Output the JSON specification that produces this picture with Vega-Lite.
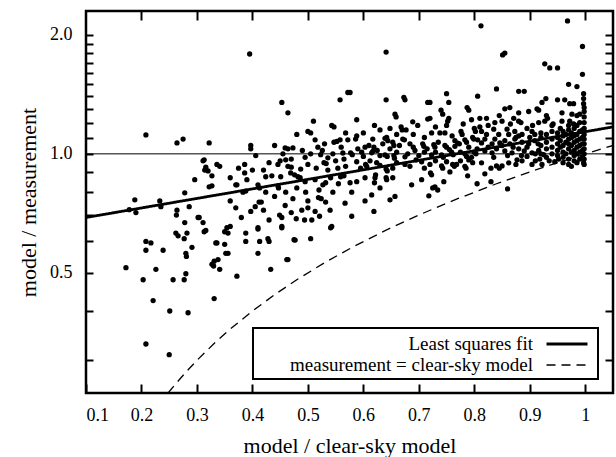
{
  "$schema": "https://vega.github.io/schema/vega-lite/v6.json",
  "width": 527,
  "height": 382,
  "autosize": {"type": "none"},
  "padding": {"left": 86, "top": 11, "right": 3, "bottom": 64},
  "background": "white",
  "config": {
    "view": {"stroke": "black", "strokeWidth": 2.5},
    "axis": {
      "domain": false, "grid": false,
      "labelFont": "Liberation Serif", "titleFont": "Liberation Serif",
      "labelColor": "black", "titleColor": "black", "tickColor": "black",
      "tickWidth": 2, "labelFontSize": 18, "titleFontSize": 22, "titleFontWeight": "normal"
    },
    "legend": {
      "orient": "none", "legendX": 167, "legendY": 317,
      "strokeColor": "black", "fillColor": "white", "padding": 4, "strokeWidth": 2,
      "labelFont": "Liberation Serif", "labelFontSize": 19, "labelColor": "black",
      "labelLimit": 0, "symbolType": "M-2,0L2,0", "symbolSize": 420,
      "symbolStrokeColor": "black", "symbolFillColor": "transparent", "rowPadding": -3,
      "labelAlign": "right", "labelOffset": -46, "symbolOffset": 298
    }
  },
  "datasets": {
    "pts": [
      {"x":0.208,"y":1.117},{"x":0.264,"y":1.066},{"x":0.275,"y":1.09},{"x":0.322,"y":1.066},{"x":0.311,"y":0.96},{"x":0.314,"y":0.91},{"x":0.316,"y":0.925},{"x":0.327,"y":0.88},{"x":0.336,"y":0.94},{"x":0.296,"y":0.86},{"x":0.322,"y":0.825},{"x":0.327,"y":0.83},{"x":0.278,"y":0.797},{"x":0.188,"y":0.765},{"x":0.178,"y":0.722},{"x":0.19,"y":0.71},{"x":0.233,"y":0.76},{"x":0.235,"y":0.735},{"x":0.286,"y":0.735},{"x":0.264,"y":0.72},{"x":0.263,"y":0.70},{"x":0.302,"y":0.69},{"x":0.278,"y":0.67},{"x":0.311,"y":0.67},{"x":0.316,"y":0.64},{"x":0.262,"y":0.63},{"x":0.266,"y":0.62},{"x":0.277,"y":0.61},{"x":0.282,"y":0.63},{"x":0.208,"y":0.60},{"x":0.217,"y":0.595},{"x":0.208,"y":0.57},{"x":0.239,"y":0.57},{"x":0.28,"y":0.56},{"x":0.281,"y":0.55},{"x":0.291,"y":0.58},{"x":0.334,"y":0.595},{"x":0.172,"y":0.515},{"x":0.226,"y":0.51},{"x":0.203,"y":0.48},{"x":0.257,"y":0.48},{"x":0.277,"y":0.48},{"x":0.28,"y":0.497},{"x":0.327,"y":0.525},{"x":0.331,"y":0.535},{"x":0.221,"y":0.425},{"x":0.251,"y":0.40},{"x":0.284,"y":0.396},{"x":0.331,"y":0.43},{"x":0.208,"y":0.33},{"x":0.25,"y":0.31},{"x":0.372,"y":0.49},{"x":0.433,"y":0.51},{"x":0.462,"y":0.54},{"x":0.41,"y":0.56},{"x":0.356,"y":0.56},{"x":0.388,"y":0.60},{"x":0.336,"y":0.595},{"x":0.428,"y":0.61},{"x":0.475,"y":0.606},{"x":0.36,"y":0.655},{"x":0.41,"y":0.65},{"x":0.453,"y":0.655},{"x":0.33,"y":0.52},{"x":0.341,"y":0.51},{"x":0.313,"y":0.635},{"x":0.313,"y":0.966},{"x":0.32,"y":0.905},{"x":0.304,"y":0.69},{"x":0.372,"y":0.835},
      {"x":0.395,"y":1.79},{"x":0.453,"y":1.35},{"x":0.464,"y":1.27},{"x":0.558,"y":1.37},{"x":0.572,"y":1.43},{"x":0.397,"y":1.05},{"x":0.397,"y":1.03},{"x":0.406,"y":0.99},{"x":0.341,"y":0.93},{"x":0.386,"y":0.94},{"x":0.386,"y":0.895},{"x":0.40,"y":0.91},{"x":0.43,"y":0.95},{"x":0.44,"y":1.05},{"x":0.446,"y":0.94},{"x":0.459,"y":1.035},{"x":0.464,"y":1.03},{"x":0.46,"y":0.966},{"x":0.464,"y":0.93},{"x":0.473,"y":1.035},{"x":0.47,"y":0.925},{"x":0.48,"y":1.12},{"x":0.487,"y":0.915},{"x":0.495,"y":0.98},{"x":0.476,"y":0.885},{"x":0.50,"y":1.14},{"x":0.505,"y":1.13},{"x":0.513,"y":1.085},{"x":0.51,"y":1.21},{"x":0.518,"y":1.04},{"x":0.523,"y":0.995},{"x":0.526,"y":1.02},{"x":0.529,"y":0.95},{"x":0.533,"y":0.945},{"x":0.543,"y":1.18},{"x":0.547,"y":1.17},{"x":0.547,"y":1.07},{"x":0.552,"y":1.075},{"x":0.558,"y":1.085},{"x":0.536,"y":0.977},{"x":0.536,"y":0.91},{"x":0.541,"y":0.87},{"x":0.532,"y":0.845},{"x":0.554,"y":0.92},{"x":0.559,"y":0.875},{"x":0.567,"y":0.75},{"x":0.568,"y":0.93},{"x":0.568,"y":1.13},{"x":0.572,"y":1.085},{"x":0.563,"y":1.005},{"x":0.37,"y":0.835},{"x":0.383,"y":0.80},{"x":0.388,"y":0.805},{"x":0.41,"y":0.835},{"x":0.413,"y":0.82},{"x":0.424,"y":0.875},{"x":0.424,"y":0.80},{"x":0.446,"y":0.83},{"x":0.447,"y":0.82},{"x":0.451,"y":0.875},{"x":0.469,"y":0.895},{"x":0.482,"y":0.875},{"x":0.486,"y":0.87},{"x":0.473,"y":0.77},{"x":0.459,"y":0.74},{"x":0.496,"y":0.80},{"x":0.495,"y":0.85},{"x":0.513,"y":0.86},{"x":0.519,"y":0.775},{"x":0.524,"y":0.77},{"x":0.527,"y":0.835},{"x":0.532,"y":0.755},{"x":0.412,"y":0.755},{"x":0.416,"y":0.755},{"x":0.405,"y":0.735},{"x":0.397,"y":0.715},{"x":0.449,"y":0.70},{"x":0.453,"y":0.69},{"x":0.489,"y":0.72},{"x":0.479,"y":0.685},{"x":0.494,"y":0.68},{"x":0.507,"y":0.68},{"x":0.513,"y":0.715},{"x":0.521,"y":0.695},{"x":0.453,"y":0.65},{"x":0.41,"y":0.645},{"x":0.541,"y":0.65},{"x":0.354,"y":0.65},{"x":0.35,"y":0.635},{"x":0.356,"y":0.63},{"x":0.388,"y":0.63},{"x":0.413,"y":0.60},{"x":0.43,"y":0.60},{"x":0.35,"y":0.59},{"x":0.352,"y":0.56},{"x":0.477,"y":0.605},{"x":0.505,"y":0.61},{"x":0.464,"y":0.54},{"x":0.338,"y":0.54},
      {"x":0.812,"y":2.11},{"x":0.641,"y":1.81},{"x":0.576,"y":1.43},{"x":0.641,"y":1.37},{"x":0.673,"y":1.39},{"x":0.675,"y":1.37},{"x":0.716,"y":1.35},{"x":0.72,"y":1.35},{"x":0.75,"y":1.42},{"x":0.754,"y":1.35},{"x":0.806,"y":1.40},{"x":0.588,"y":1.22},{"x":0.657,"y":1.26},{"x":0.659,"y":1.24},{"x":0.74,"y":1.29},{"x":0.743,"y":1.26},{"x":0.689,"y":1.205},{"x":0.698,"y":1.18},{"x":0.716,"y":1.225},{"x":0.72,"y":1.23},{"x":0.754,"y":1.23},{"x":0.752,"y":1.21},{"x":0.787,"y":1.31},{"x":0.79,"y":1.29},{"x":0.795,"y":1.22},{"x":0.81,"y":1.23},{"x":0.63,"y":1.15},{"x":0.648,"y":1.16},{"x":0.668,"y":1.17},{"x":0.67,"y":1.15},{"x":0.677,"y":1.15},{"x":0.723,"y":1.13},{"x":0.738,"y":1.13},{"x":0.747,"y":1.13},{"x":0.75,"y":1.18},{"x":0.776,"y":1.14},{"x":0.778,"y":1.12},{"x":0.80,"y":1.16},{"x":0.802,"y":1.14},{"x":0.588,"y":1.11},{"x":0.586,"y":1.09},{"x":0.603,"y":1.04},{"x":0.617,"y":1.09},{"x":0.619,"y":1.04},{"x":0.639,"y":1.095},{"x":0.642,"y":1.10},{"x":0.644,"y":1.08},{"x":0.653,"y":1.07},{"x":0.655,"y":1.05},{"x":0.671,"y":1.09},{"x":0.674,"y":1.085},{"x":0.684,"y":1.06},{"x":0.707,"y":1.06},{"x":0.709,"y":1.045},{"x":0.727,"y":1.055},{"x":0.729,"y":1.04},{"x":0.747,"y":1.05},{"x":0.75,"y":1.04},{"x":0.765,"y":1.08},{"x":0.77,"y":1.065},{"x":0.773,"y":1.06},{"x":0.783,"y":1.085},{"x":0.786,"y":1.07},{"x":0.797,"y":1.10},{"x":0.799,"y":1.09},{"x":0.806,"y":1.085},{"x":0.577,"y":1.006},{"x":0.58,"y":0.995},{"x":0.597,"y":1.01},{"x":0.615,"y":1.006},{"x":0.617,"y":1.015},{"x":0.639,"y":0.994},{"x":0.643,"y":0.985},{"x":0.655,"y":0.99},{"x":0.656,"y":0.975},{"x":0.675,"y":0.983},{"x":0.693,"y":1.02},{"x":0.71,"y":1.01},{"x":0.723,"y":0.994},{"x":0.741,"y":0.994},{"x":0.744,"y":0.98},{"x":0.759,"y":1.01},{"x":0.762,"y":0.995},{"x":0.783,"y":1.0},{"x":0.786,"y":0.985},{"x":0.80,"y":1.01},{"x":0.803,"y":1.0},{"x":0.588,"y":0.955},{"x":0.604,"y":0.94},{"x":0.606,"y":0.93},{"x":0.624,"y":0.95},{"x":0.641,"y":0.916},{"x":0.643,"y":0.905},{"x":0.653,"y":0.92},{"x":0.675,"y":0.94},{"x":0.684,"y":0.93},{"x":0.705,"y":0.955},{"x":0.72,"y":0.94},{"x":0.741,"y":0.932},{"x":0.743,"y":0.92},{"x":0.761,"y":0.94},{"x":0.764,"y":0.93},{"x":0.783,"y":0.93},{"x":0.785,"y":0.92},{"x":0.797,"y":0.95},{"x":0.576,"y":0.845},{"x":0.588,"y":0.85},{"x":0.603,"y":0.87},{"x":0.62,"y":0.845},{"x":0.622,"y":0.885},{"x":0.621,"y":0.87},{"x":0.641,"y":0.87},{"x":0.642,"y":0.86},{"x":0.653,"y":0.87},{"x":0.687,"y":0.835},{"x":0.705,"y":0.86},{"x":0.721,"y":0.895},{"x":0.723,"y":0.885},{"x":0.745,"y":0.85},{"x":0.756,"y":0.90},{"x":0.768,"y":0.94},{"x":0.788,"y":0.88},{"x":0.805,"y":0.84},{"x":0.579,"y":0.80},{"x":0.603,"y":0.76},{"x":0.615,"y":0.787},{"x":0.63,"y":0.82},{"x":0.648,"y":0.765},{"x":0.657,"y":0.78},{"x":0.718,"y":0.783},{"x":0.729,"y":0.825},{"x":0.734,"y":0.81},{"x":0.579,"y":0.695},{"x":0.619,"y":0.715},{"x":0.543,"y":0.655},{"x":0.725,"y":0.82},{"x":0.86,"y":0.815},{"x":0.83,"y":0.85},
      {"x":0.968,"y":2.17},{"x":0.995,"y":1.87},{"x":0.851,"y":1.78},{"x":0.855,"y":1.80},{"x":0.927,"y":1.69},{"x":0.936,"y":1.65},{"x":0.95,"y":1.65},{"x":0.995,"y":1.59},{"x":0.84,"y":1.46},{"x":0.88,"y":1.44},{"x":0.89,"y":1.44},{"x":0.97,"y":1.50},{"x":0.985,"y":1.48},{"x":0.997,"y":1.42},{"x":0.997,"y":1.38},{"x":0.997,"y":1.34},{"x":0.855,"y":1.30},{"x":0.864,"y":1.31},{"x":0.922,"y":1.35},{"x":0.929,"y":1.38},{"x":0.95,"y":1.37},{"x":0.963,"y":1.37},{"x":0.972,"y":1.34},{"x":0.979,"y":1.34},{"x":0.88,"y":1.27},{"x":0.898,"y":1.28},{"x":0.913,"y":1.30},{"x":0.916,"y":1.29},{"x":0.93,"y":1.25},{"x":0.932,"y":1.23},{"x":0.958,"y":1.27},{"x":0.976,"y":1.26},{"x":0.985,"y":1.25},{"x":0.99,"y":1.26},{"x":0.822,"y":1.23},{"x":0.837,"y":1.20},{"x":0.85,"y":1.21},{"x":0.871,"y":1.23},{"x":0.88,"y":1.21},{"x":0.884,"y":1.20},{"x":0.895,"y":1.16},{"x":0.916,"y":1.20},{"x":0.927,"y":1.21},{"x":0.94,"y":1.18},{"x":0.942,"y":1.19},{"x":0.958,"y":1.21},{"x":0.972,"y":1.21},{"x":0.979,"y":1.19},{"x":0.985,"y":1.18},{"x":0.813,"y":1.14},{"x":0.822,"y":1.12},{"x":0.835,"y":1.155},{"x":0.844,"y":1.12},{"x":0.859,"y":1.155},{"x":0.862,"y":1.12},{"x":0.873,"y":1.14},{"x":0.88,"y":1.11},{"x":0.886,"y":1.12},{"x":0.904,"y":1.14},{"x":0.909,"y":1.12},
      {"x":0.813,"y":1.066},{"x":0.819,"y":1.09},{"x":0.832,"y":1.06},{"x":0.837,"y":1.09},{"x":0.846,"y":1.066},{"x":0.855,"y":1.08},{"x":0.864,"y":1.06},{"x":0.873,"y":1.09},{"x":0.886,"y":1.07},{"x":0.898,"y":1.06},{"x":0.909,"y":1.08},
      {"x":0.819,"y":1.017},{"x":0.832,"y":1.006},{"x":0.84,"y":1.03},{"x":0.855,"y":1.017},{"x":0.868,"y":1.006},{"x":0.88,"y":1.03},{"x":0.89,"y":1.017},{"x":0.904,"y":1.006},{"x":0.916,"y":1.02},
      {"x":0.813,"y":0.949},{"x":0.84,"y":0.932},{"x":0.85,"y":0.932},{"x":0.862,"y":0.949},{"x":0.877,"y":0.966},{"x":0.886,"y":0.96},{"x":0.904,"y":0.94},{"x":0.918,"y":0.97},{"x":0.922,"y":0.94},
      {"x":0.819,"y":0.89},{"x":0.952,"y":0.97},{"x":0.97,"y":0.94},{"x":0.997,"y":0.95},{"x":0.83,"y":0.92},{"x":0.845,"y":0.92},{"x":0.875,"y":0.94},{"x":0.895,"y":0.985},{"x":0.91,"y":0.96},{"x":0.925,"y":0.995},{"x":0.935,"y":0.96},{"x":0.945,"y":0.955},
      {"x":0.92,"y":1.0},{"x":0.92,"y":1.05},{"x":0.92,"y":1.1},{"x":0.92,"y":1.13},
      {"x":0.93,"y":0.98},{"x":0.93,"y":1.03},{"x":0.93,"y":1.07},{"x":0.93,"y":1.12},
      {"x":0.94,"y":1.0},{"x":0.94,"y":1.04},{"x":0.94,"y":1.09},{"x":0.94,"y":1.14},
      {"x":0.95,"y":0.99},{"x":0.95,"y":1.02},{"x":0.95,"y":1.06},{"x":0.95,"y":1.1},{"x":0.95,"y":1.13},
      {"x":0.955,"y":1.04},{"x":0.955,"y":1.08},{"x":0.955,"y":1.16},
      {"x":0.96,"y":0.98},{"x":0.96,"y":1.01},{"x":0.96,"y":1.05},{"x":0.96,"y":1.11},{"x":0.96,"y":1.14},
      {"x":0.965,"y":1.0},{"x":0.965,"y":1.07},{"x":0.965,"y":1.12},
      {"x":0.97,"y":0.97},{"x":0.97,"y":1.03},{"x":0.97,"y":1.06},{"x":0.97,"y":1.09},{"x":0.97,"y":1.15},{"x":0.97,"y":1.18},
      {"x":0.975,"y":1.01},{"x":0.975,"y":1.05},{"x":0.975,"y":1.1},{"x":0.975,"y":1.13},
      {"x":0.98,"y":0.96},{"x":0.98,"y":0.99},{"x":0.98,"y":1.02},{"x":0.98,"y":1.07},{"x":0.98,"y":1.11},{"x":0.98,"y":1.16},
      {"x":0.985,"y":1.0},{"x":0.985,"y":1.04},{"x":0.985,"y":1.08},{"x":0.985,"y":1.12},
      {"x":0.99,"y":0.97},{"x":0.99,"y":1.01},{"x":0.99,"y":1.05},{"x":0.99,"y":1.09},{"x":0.99,"y":1.14},{"x":0.99,"y":1.2},
      {"x":0.995,"y":0.98},{"x":0.995,"y":1.02},{"x":0.995,"y":1.06},{"x":0.995,"y":1.1},{"x":0.995,"y":1.15},
      {"x":0.998,"y":0.94},{"x":0.998,"y":0.97},{"x":0.998,"y":1.0},{"x":0.998,"y":1.03},{"x":0.998,"y":1.06},{"x":0.998,"y":1.09},{"x":0.998,"y":1.12},{"x":0.998,"y":1.16},{"x":0.998,"y":1.2},{"x":0.998,"y":1.24},{"x":0.998,"y":1.28},{"x":0.998,"y":1.31},
      {"x":0.975,"y":0.93},{"x":0.985,"y":0.95},{"x":0.96,"y":0.95},
      {"x":0.59,"y":1.03},{"x":0.6,"y":0.985},{"x":0.61,"y":1.05},{"x":0.625,"y":1.02},{"x":0.63,"y":0.99},{"x":0.635,"y":1.06},{"x":0.648,"y":1.03},{"x":0.66,"y":1.01},{"x":0.665,"y":1.05},{"x":0.68,"y":1.0},{"x":0.69,"y":1.04},{"x":0.70,"y":0.99},{"x":0.715,"y":1.03},{"x":0.73,"y":1.01},{"x":0.735,"y":1.07},{"x":0.755,"y":1.025},{"x":0.765,"y":1.045},{"x":0.775,"y":1.01},{"x":0.79,"y":1.04},{"x":0.795,"y":0.98},{"x":0.805,"y":1.03},
      {"x":0.595,"y":0.92},{"x":0.612,"y":0.96},{"x":0.63,"y":0.935},{"x":0.66,"y":0.95},{"x":0.695,"y":0.965},{"x":0.71,"y":0.92},{"x":0.73,"y":0.96},{"x":0.75,"y":0.955},{"x":0.775,"y":0.96},{"x":0.79,"y":0.965},
      {"x":0.6,"y":1.13},{"x":0.62,"y":1.18},{"x":0.66,"y":1.12},{"x":0.69,"y":1.12},{"x":0.71,"y":1.1},{"x":0.73,"y":1.17},{"x":0.76,"y":1.11},{"x":0.78,"y":1.19},{"x":0.81,"y":1.17},
      {"x":0.36,"y":0.87},{"x":0.375,"y":0.92},{"x":0.39,"y":0.86},{"x":0.42,"y":0.91},{"x":0.435,"y":0.88},{"x":0.45,"y":0.96},{"x":0.455,"y":1.0},{"x":0.47,"y":0.97},{"x":0.49,"y":1.02},{"x":0.5,"y":0.94},{"x":0.505,"y":1.0},{"x":0.515,"y":0.92},{"x":0.53,"y":1.06},{"x":0.545,"y":1.0},{"x":0.55,"y":0.96},{"x":0.56,"y":1.04},{"x":0.565,"y":0.97},{"x":0.44,"y":0.78},{"x":0.46,"y":0.8},{"x":0.48,"y":0.82},{"x":0.5,"y":0.76},{"x":0.52,"y":0.81},{"x":0.545,"y":0.8},{"x":0.555,"y":0.84},{"x":0.565,"y":0.88},{"x":0.42,"y":0.72},{"x":0.47,"y":0.71},{"x":0.5,"y":0.73},{"x":0.54,"y":0.72},{"x":0.43,"y":0.68},{"x":0.37,"y":0.73},{"x":0.38,"y":0.69},{"x":0.36,"y":0.76},
      {"x":0.825,"y":1.04},{"x":0.835,"y":0.98},{"x":0.85,"y":1.05},{"x":0.86,"y":0.99},{"x":0.87,"y":1.04},{"x":0.875,"y":1.1},{"x":0.885,"y":0.99},{"x":0.895,"y":1.04},{"x":0.9,"y":1.1},{"x":0.91,"y":1.0},{"x":0.915,"y":1.06},{"x":0.825,"y":1.18},{"x":0.865,"y":1.19},{"x":0.905,"y":1.18},{"x":0.845,"y":1.25}
    ],
    "lines": [
      {"s":"Least squares fit","x":0.1,"y":0.69},
      {"s":"Least squares fit","x":1.05,"y":1.17},
      {"s":"measurement = clear-sky model","x":0.248,"y":0.248},
      {"s":"measurement = clear-sky model","x":0.26,"y":0.26},
      {"s":"measurement = clear-sky model","x":0.28,"y":0.28},
      {"s":"measurement = clear-sky model","x":0.30,"y":0.30},
      {"s":"measurement = clear-sky model","x":0.33,"y":0.33},
      {"s":"measurement = clear-sky model","x":0.36,"y":0.36},
      {"s":"measurement = clear-sky model","x":0.40,"y":0.40},
      {"s":"measurement = clear-sky model","x":0.44,"y":0.44},
      {"s":"measurement = clear-sky model","x":0.48,"y":0.48},
      {"s":"measurement = clear-sky model","x":0.53,"y":0.53},
      {"s":"measurement = clear-sky model","x":0.58,"y":0.58},
      {"s":"measurement = clear-sky model","x":0.64,"y":0.64},
      {"s":"measurement = clear-sky model","x":0.70,"y":0.70},
      {"s":"measurement = clear-sky model","x":0.77,"y":0.77},
      {"s":"measurement = clear-sky model","x":0.84,"y":0.84},
      {"s":"measurement = clear-sky model","x":0.92,"y":0.92},
      {"s":"measurement = clear-sky model","x":1.0,"y":1.0},
      {"s":"measurement = clear-sky model","x":1.05,"y":1.05}
    ]
  },
  "resolve": {"axis": {"x": "independent", "y": "independent"}},
  "layer": [
    {
      "data": {"name": "pts"},
      "mark": {"type": "circle", "size": 28, "color": "black", "opacity": 1},
      "encoding": {
        "x": {"field": "x", "type": "quantitative",
              "scale": {"domain": [0.1, 1.05], "nice": false, "zero": false},
              "axis": {"orient": "bottom", "title": "model / clear-sky model",
                       "values": [0.1,0.2,0.3,0.4,0.5,0.6,0.7,0.8,0.9,1],
                       "labelExpr": "datum.value == 1 ? '1' : format(datum.value, '.1f')",
                       "labelFont": "Liberation Serif", "titleFont": "Liberation Serif",
                       "tickSize": -9, "labelPadding": 22, "titleY": 59, "titleBaseline": "alphabetic"}},
        "y": {"field": "y", "type": "quantitative",
              "scale": {"type": "log", "domain": [0.248, 2.3], "nice": false},
              "axis": {"orient": "left", "title": "model / measurement",
                       "values": [0.3,0.4,0.5,0.6,0.7,0.8,0.9,1,1.1,1.2,1.3,1.4,1.5,1.6,1.7,1.8,1.9,2],
                       "labelExpr": "datum.value == 0.5 || datum.value == 1 || datum.value == 2 ? format(datum.value, '.1f') : ''",
                       "labelFont": "Liberation Serif", "titleFont": "Liberation Serif",
                       "tickSize": -7, "labelPadding": 21, "titleX": -51, "titleBaseline": "alphabetic"}}
      }
    },
    {
      "data": {"values": [{"v": 1}]},
      "mark": {"type": "rule", "color": "black", "strokeWidth": 1},
      "encoding": {
        "y": {"field": "v", "type": "quantitative",
              "scale": {"type": "log", "domain": [0.248, 2.3], "nice": false}, "axis": null}
      }
    },
    {
      "data": {"name": "lines"},
      "mark": {"type": "line", "color": "black", "clip": true},
      "encoding": {
        "x": {"field": "x", "type": "quantitative",
              "scale": {"domain": [0.1, 1.05], "nice": false, "zero": false},
              "axis": {"orient": "top", "title": null, "labels": false,
                       "values": [0.2,0.3,0.4,0.5,0.6,0.7,0.8,0.9,1], "tickSize": -9}},
        "y": {"field": "y", "type": "quantitative",
              "scale": {"type": "log", "domain": [0.248, 2.3], "nice": false},
              "axis": {"orient": "right", "title": null, "labels": false,
                       "values": [0.3,0.4,0.5,0.6,0.7,0.8,0.9,1,1.1,1.2,1.3,1.4,1.5,1.6,1.7,1.8,1.9,2], "tickSize": -8}},
        "strokeDash": {"field": "s", "type": "nominal", "title": null,
                       "scale": {"domain": ["Least squares fit", "measurement = clear-sky model"], "range": [[1, 0], [9, 6]]}},
        "strokeWidth": {"field": "s", "type": "nominal", "title": null,
                        "scale": {"domain": ["Least squares fit", "measurement = clear-sky model"], "range": [2.8, 1.3]}}
      }
    }
  ]
}
